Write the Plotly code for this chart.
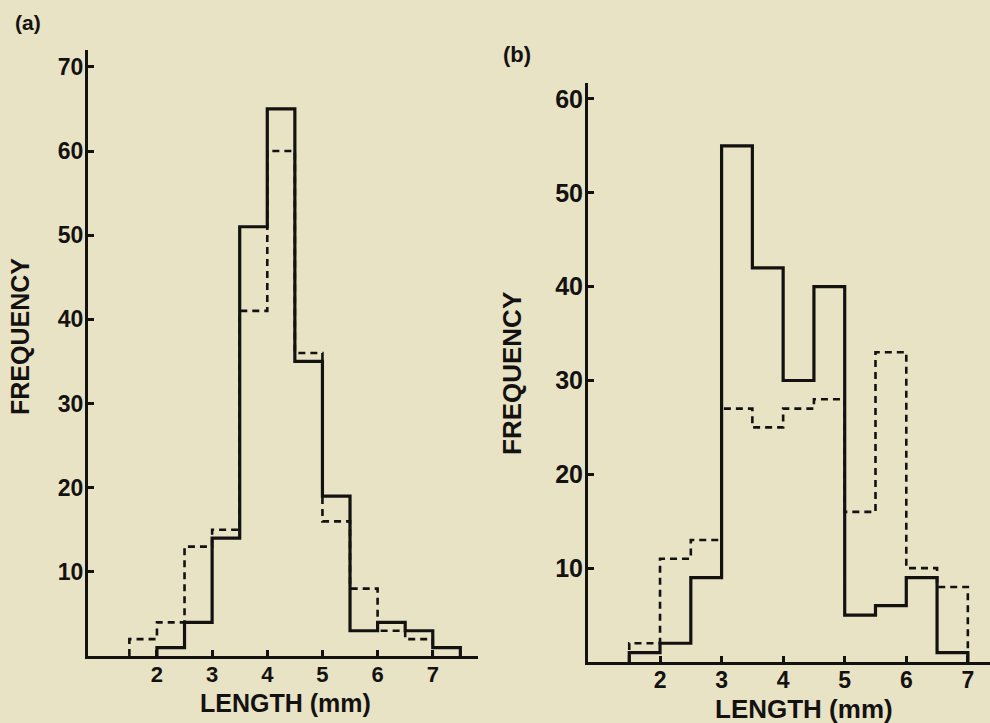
import plotly.graph_objects as go

# Bin edges (mm), bin width 0.5
bin_edges = [1.5, 2.0, 2.5, 3.0, 3.5, 4.0, 4.5, 5.0, 5.5, 6.0, 6.5, 7.0, 7.5]

# Panel (a)
a_solid = [0, 1, 4, 14, 51, 65, 35, 19, 3, 4, 3, 1]
a_dashed = [2, 4, 13, 15, 41, 60, 36, 16, 8, 3, 2, 0]

# Panel (b)
b_solid = [1, 2, 9, 55, 42, 30, 40, 5, 6, 9, 1, 0]
b_dashed = [2, 11, 13, 27, 25, 27, 28, 16, 33, 10, 8, 0]

a_yticks = [10, 20, 30, 40, 50, 60, 70]
b_yticks = [10, 20, 30, 40, 50, 60]
x_ticks = [2, 3, 4, 5, 6, 7]

BG = "rgb(233,227,198)"
INK = "rgb(20,18,16)"
FONT = "Liberation Sans"


def step_xy(edges, vals):
    idx = [i for i, v in enumerate(vals) if v != 0]
    i0, i1 = idx[0], idx[-1]
    xs = [edges[i0]] + edges[i0:i1 + 1] + [edges[i1 + 1]]
    ys = [0] + vals[i0:i1 + 1] + [0]
    return xs, ys


fig = go.Figure()

for vals, dash, width, xa, ya in [
    (a_dashed, "7px,5px", 2.6, "x", "y"),
    (a_solid, "solid", 3.2, "x", "y"),
    (b_dashed, "7px,5px", 2.6, "x2", "y2"),
    (b_solid, "solid", 3.2, "x2", "y2"),
]:
    xs, ys = step_xy(bin_edges, vals)
    fig.add_trace(go.Scatter(
        x=xs, y=ys, mode="lines", line_shape="hv",
        line=dict(color=INK, width=width, dash=dash),
        xaxis=xa, yaxis=ya, showlegend=False, hoverinfo="skip",
    ))

common_axis = dict(
    showline=True, linecolor=INK, linewidth=3,
    showgrid=False, zeroline=False,
    ticks="inside", ticklen=6, tickwidth=2.5, tickcolor=INK,
)

fig.update_layout(
    width=990, height=723, autosize=False,
    margin=dict(l=0, r=0, t=0, b=0),
    paper_bgcolor=BG, plot_bgcolor=BG,
    font=dict(family=FONT, color=INK),
    xaxis=dict(domain=[88 / 990, 478 / 990], range=[0.75, 7.82],
               tickvals=x_ticks, tickfont=dict(size=22, weight="bold"),
               ticklabelstandoff=-3,
               anchor="y", **common_axis),
    yaxis=dict(domain=[1 - 656 / 723, 1 - 50 / 723], range=[0, 72],
               tickvals=a_yticks, tickfont=dict(size=23, weight="bold"),
               ticklabelstandoff=-3,
               anchor="x", **common_axis),
    xaxis2=dict(domain=[588 / 990, 1.0], range=[0.83, 7.36],
                tickvals=x_ticks, tickfont=dict(size=23, weight="bold"),
                ticklabelstandoff=-5,
                anchor="y2", **common_axis),
    yaxis2=dict(domain=[1 - 662 / 723, 1 - 83 / 723], range=[0, 61.7],
                tickvals=b_yticks, tickfont=dict(size=25, weight="bold"),
                ticklabelstandoff=-3,
                anchor="x2", **common_axis),
)

ann = [
    dict(text="(a)", x=28, y=22, size=21),
    dict(text="(b)", x=517, y=55, size=22),
    dict(text="LENGTH (mm)", x=285, y=703, size=25),
    dict(text="LENGTH (mm)", x=804, y=709, size=26),
    dict(text="FREQUENCY", x=20, y=337, size=25, angle=-90),
    dict(text="FREQUENCY", x=512, y=374, size=26, angle=-90),
]
for a in ann:
    fig.add_annotation(
        text=a["text"], x=a["x"] / 990, y=1 - a["y"] / 723,
        xref="paper", yref="paper", xanchor="center", yanchor="middle",
        showarrow=False, textangle=a.get("angle", 0),
        font=dict(family=FONT, size=a["size"], color=INK, weight="bold"),
    )

fig.write_html(
    "out.html",
    config={"displayModeBar": False},
    post_script="document.body.style.margin='0';document.body.style.overflow='hidden';",
)
